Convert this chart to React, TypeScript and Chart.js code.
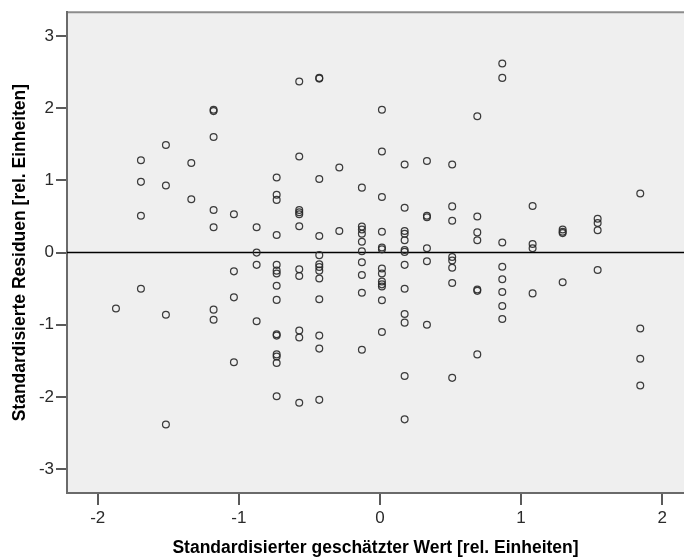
import { useEffect, useRef } from "react";
import { Chart, registerables } from "chart.js";

Chart.register(...registerables);

// Standardized predicted value columns (x)
const predicted = [
  -1.871, -1.694, -1.517, -1.337, -1.179, -1.035, -0.874, -0.732, -0.572, -0.43,
  -0.288, -0.128, 0.014, 0.175, 0.333, 0.512, 0.69, 0.867, 1.082, 1.295, 1.543, 1.845,
];

// Standardized residuals per column (y)
const res00 = [-0.775];
const res01 = [1.28, 0.98, 0.51, -0.5];
const res02 = [1.49, 0.93, -0.86, -2.38];
const res03 = [1.24, 0.74];
const res04 = [1.98, 1.96, 1.6, 0.59, 0.35, -0.79, -0.93];
const res05 = [0.53, -0.26, -0.62, -1.52];
const res06 = [0.35, 0.0, -0.17, -0.95];
const res07 = [1.04, 0.8, 0.73, 0.245, -0.17, -0.25, -0.29, -0.46, -0.655, -1.13, -1.15, -1.41, -1.44, -1.53, -1.99];
const res08 = [2.37, 1.33, 0.59, 0.56, 0.53, 0.365, -0.23, -0.325, -1.08, -1.175, -2.08];
const res09 = [2.42, 2.41, 1.02, 0.23, -0.035, -0.16, -0.2, -0.25, -0.36, -0.645, -1.15, -1.33, -2.04];
const res10 = [1.18, 0.3];
const res11 = [0.9, 0.36, 0.32, 0.26, 0.15, 0.02, -0.135, -0.31, -0.555, -1.345];
const res12 = [1.98, 1.4, 0.77, 0.29, 0.07, 0.045, -0.22, -0.29, -0.4, -0.44, -0.47, -0.66, -1.1];
const res13 = [1.22, 0.62, 0.3, 0.26, 0.17, 0.035, 0.01, -0.17, -0.5, -0.85, -0.97, -1.71, -2.31];
const res14 = [1.27, 0.51, 0.49, 0.06, -0.12, -1.0];
const res15 = [1.22, 0.64, 0.44, -0.06, -0.11, -0.21, -0.42, -1.735];
const res16 = [1.89, 0.5, 0.28, 0.17, -0.51, -0.53, -1.41];
const res17 = [2.62, 2.42, 0.14, -0.195, -0.37, -0.545, -0.74, -0.92];
const res18 = [0.645, 0.12, 0.06, -0.565];
const res19 = [0.32, 0.29, 0.27, -0.41];
const res20 = [0.47, 0.41, 0.31, -0.24];
const res21 = [0.82, -1.05, -1.47, -1.84];

const residuals = [
  res00, res01, res02, res03, res04, res05, res06, res07, res08, res09, res10,
  res11, res12, res13, res14, res15, res16, res17, res18, res19, res20, res21,
];

const xTicks = [-2, -1, 0, 1, 2];
const yTicks = [-3, -2, -1, 0, 1, 2, 3];
const xRange = [-2.218, 2.155];
const yRange = [-3.33, 3.33];
const referenceY = 0;

const xTitle = "Standardisierter geschätzter Wert [rel. Einheiten]";
const yTitle = "Standardisierte Residuen [rel. Einheiten]";

const FONT = "'Liberation Sans', Arial, Helvetica, sans-serif";

export default function App() {
  const ref = useRef<HTMLCanvasElement>(null);

  useEffect(() => {
    if (!ref.current) return;
    const points = predicted.flatMap((x, i) => residuals[i].map((y) => ({ x, y })));

    const plotPlugin = {
      id: "plotDecor",
      beforeDraw(chart: any) {
        const { ctx, chartArea: a } = chart;
        ctx.save();
        ctx.fillStyle = "#efefef";
        ctx.fillRect(a.left, a.top, a.right - a.left, a.bottom - a.top);
        ctx.strokeStyle = "#8c8c8c";
        ctx.lineWidth = 2;
        ctx.beginPath();
        ctx.moveTo(a.left, a.top);
        ctx.lineTo(a.right, a.top);
        ctx.stroke();
        ctx.restore();
      },
      beforeDatasetsDraw(chart: any) {
        const { ctx, chartArea: a, scales } = chart;
        const py = scales.y.getPixelForValue(referenceY);
        ctx.save();
        ctx.strokeStyle = "#000";
        ctx.lineWidth = 1.5;
        ctx.beginPath();
        ctx.moveTo(a.left, py);
        ctx.lineTo(a.right, py);
        ctx.stroke();
        ctx.restore();
      },
    };

    const chart = new Chart(ref.current, {
      type: "scatter",
      data: {
        datasets: [
          {
            data: points,
            pointStyle: "circle",
            pointRadius: 3.4,
            pointBorderWidth: 1.25,
            borderColor: "rgba(40,40,40,0.9)",
            backgroundColor: "rgba(0,0,0,0)",
            pointHoverRadius: 3.4,
          },
        ],
      },
      options: {
        responsive: false,
        animation: false,
        events: [],
        layout: { autoPadding: false, padding: { top: 11, left: 0, right: 0, bottom: 0 } },
        plugins: { legend: { display: false }, tooltip: { enabled: false } },
        scales: {
          x: {
            type: "linear",
            min: xRange[0],
            max: xRange[1],
            afterBuildTicks: (scale: any) => {
              scale.ticks = xTicks.map((v) => ({ value: v }));
            },
            afterFit: (scale: any) => {
              scale.height = 64;
            },
            grid: {
              drawOnChartArea: false,
              drawTicks: true,
              tickLength: 12,
              lineWidth: 2,
              color: "#5a5a5a",
            },
            border: { display: true, color: "#6a6a6a", width: 2 },
            ticks: {
              padding: 3,
              color: "#2a2a2a",
              font: { family: FONT, size: 17 },
              maxRotation: 0,
            },
            title: {
              display: true,
              text: xTitle,
              color: "#000",
              font: { family: FONT, size: 17.5, weight: "bold", lineHeight: 1 },
              padding: { top: 0, bottom: 0 },
            },
          },
          y: {
            type: "linear",
            min: yRange[0],
            max: yRange[1],
            afterBuildTicks: (scale: any) => {
              scale.ticks = yTicks.map((v) => ({ value: v }));
            },
            afterFit: (scale: any) => {
              scale.width = 67;
            },
            grid: {
              drawOnChartArea: false,
              drawTicks: true,
              tickLength: 11,
              lineWidth: 2,
              color: "#5a5a5a",
            },
            border: { display: true, color: "#6a6a6a", width: 2 },
            ticks: {
              padding: 2,
              color: "#2a2a2a",
              font: { family: FONT, size: 17 },
            },
            title: {
              display: true,
              text: yTitle,
              color: "#000",
              font: { family: FONT, size: 17.5, weight: "bold", lineHeight: 1 },
              padding: { top: 11, bottom: 0 },
            },
          },
        },
      },
      plugins: [plotPlugin],
    });

    return () => chart.destroy();
  }, []);

  return (
    <div style={{ position: "absolute", left: 0, top: 0, width: 684, height: 557 }}>
      <canvas ref={ref} width={684} height={557} style={{ display: "block" }} />
    </div>
  );
}
